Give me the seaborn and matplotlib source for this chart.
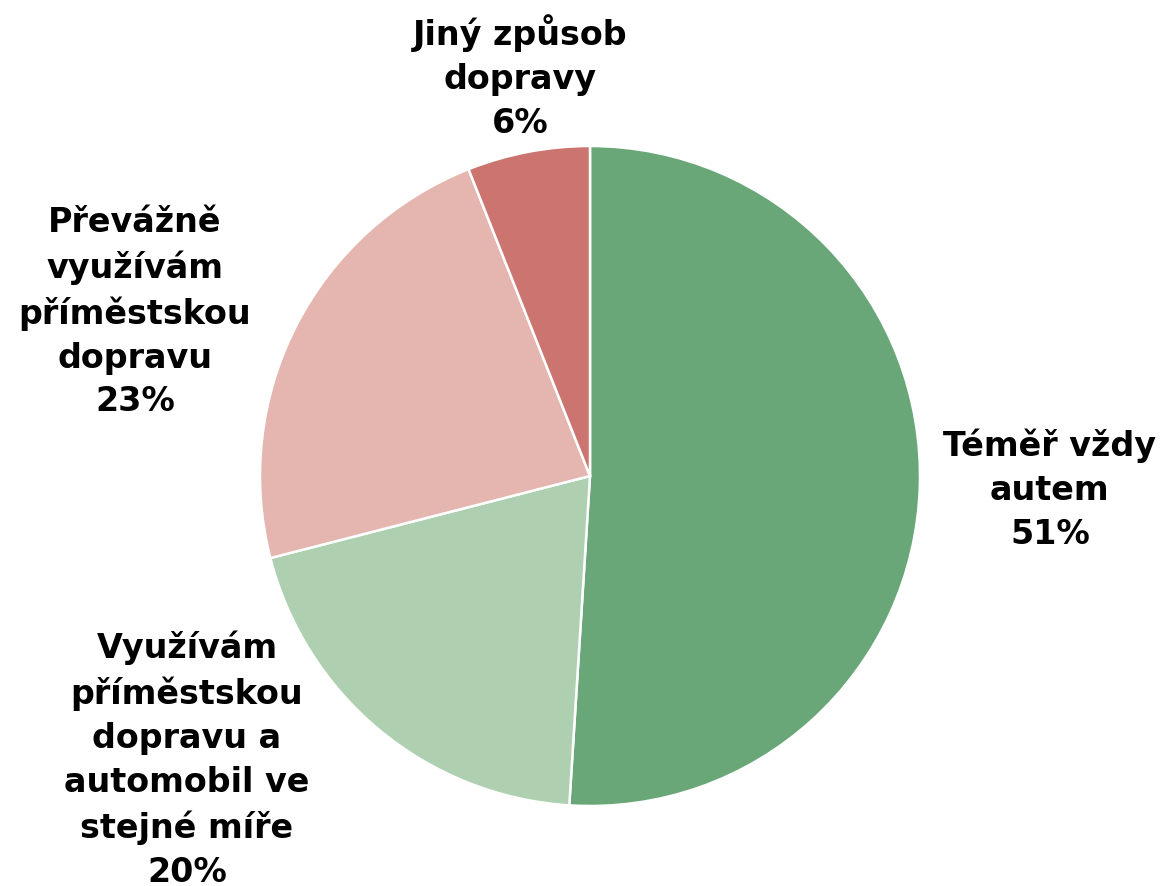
import matplotlib
matplotlib.use("Agg")
import matplotlib.pyplot as plt
import seaborn as sns
import numpy as np

categories = ["Téměř vždy\nautem", "Využívám\npříměstskou\ndopravu a\nautomobil ve\nstejné míře",
              "Převážně\nvyužívám\npříměstskou\ndopravu", "Jiný způsob\ndopravy"]
values = [51, 20, 23, 6]
colors = ["#69A778", "#AED0B0", "#E5B6B0", "#CC7570"]

sns.set_theme(style="white")
plt.rcParams['font.family'] = ['DejaVu Sans']

fig = plt.figure(figsize=(11.68, 8.87), dpi=100)
ax = fig.add_axes([260/1168, 80/887, 660/1168, 660/887])
palette = sns.color_palette(colors)
wedges, _ = ax.pie(values, colors=palette, startangle=90, counterclock=False,
                   wedgeprops=dict(edgecolor="white", linewidth=1.8), radius=1)
ax.set_xlim(-1, 1)
ax.set_ylim(-1, 1)
ax.set_aspect("equal")

# label offsets from the wedge's outer midpoint (in radius units)
offsets = [(0.394, -0.008), (-0.584, -0.087), (-0.488, 0.046), (-0.025, 0.23)]
for w, cat, v, (ox, oy) in zip(wedges, categories, values, offsets):
    ang = np.deg2rad((w.theta1 + w.theta2) / 2)
    x, y = np.cos(ang) + ox, np.sin(ang) + oy
    ax.text(x, y, f"{cat}\n{v}%", ha="center", va="center", multialignment="center",
            fontsize=24, fontweight="bold", color="black", linespacing=1.42,
            clip_on=False)

fig.savefig("out.png", dpi=100)
